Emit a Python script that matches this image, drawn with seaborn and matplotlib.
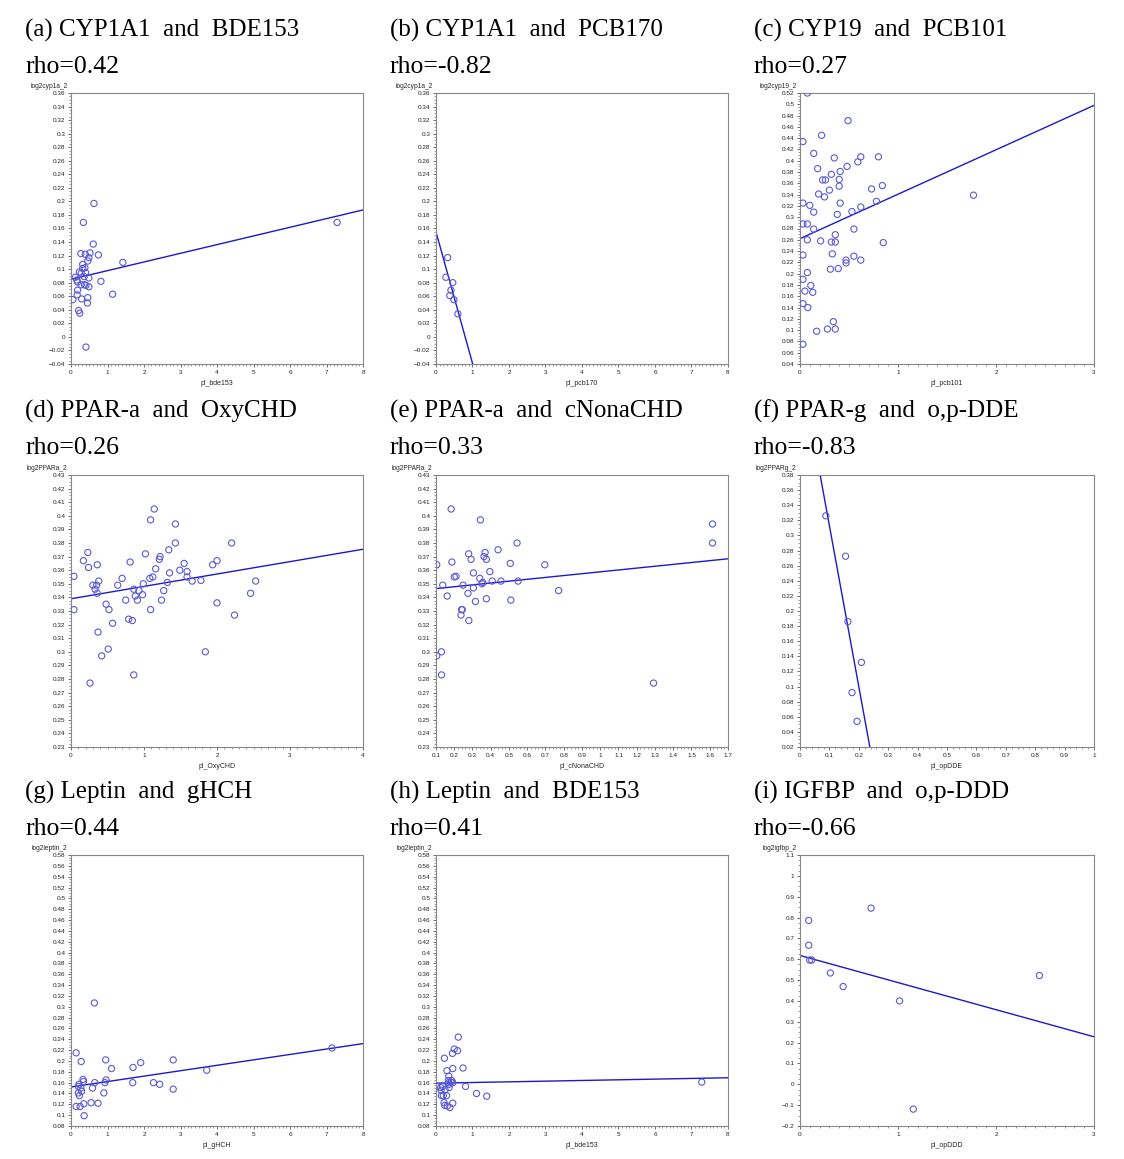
import numpy as np
import pandas as pd
import matplotlib
matplotlib.use("Agg")
import matplotlib.pyplot as plt
from matplotlib.ticker import AutoMinorLocator, FixedLocator, FuncFormatter
import seaborn as sns

# ---------------- data ----------------
titles = ["(a) CYP1A1  and  BDE153", "(b) CYP1A1  and  PCB170", "(c) CYP19  and  PCB101",
          "(d) PPAR-a  and  OxyCHD", "(e) PPAR-a  and  cNonaCHD", "(f) PPAR-g  and  o,p-DDE",
          "(g) Leptin  and  gHCH", "(h) Leptin  and  BDE153", "(i) IGFBP  and  o,p-DDD"]
rhos = ["rho=0.42", "rho=-0.82", "rho=0.27", "rho=0.26", "rho=0.33", "rho=-0.83",
        "rho=0.44", "rho=0.41", "rho=-0.66"]
xlabels = ["pl_bde153", "pl_pcb170", "pl_pcb101", "pl_OxyCHD", "pl_cNonaCHD", "pl_opDDE",
           "pl_gHCH", "pl_bde153", "pl_opDDD"]
ylabels = ["log2cyp1a_2", "log2cyp1a_2", "log2cyp19_2", "log2PPARa_2", "log2PPARa_2",
           "log2PPARg_2", "log2leptin_2", "log2leptin_2", "log2igfbp_2"]

# axis tick ranges (start, stop, step)
x_ticks = [(0, 8, 1), (0, 8, 1), (0, 3, 1), (0, 4, 1), (0.1, 1.7, 0.1), (0, 1, 0.1),
           (0, 8, 1), (0, 8, 1), (0, 3, 1)]
y_ticks = [(-0.04, 0.36, 0.02), (-0.04, 0.36, 0.02), (0.04, 0.52, 0.02), (0.23, 0.43, 0.01),
           (0.23, 0.43, 0.01), (0.02, 0.38, 0.02), (0.08, 0.58, 0.02), (0.08, 0.58, 0.02),
           (-0.2, 1.1, 0.1)]

# fitted regression lines: intercept, slope
fit_intercept = [0.085, 0.155, 0.262, 0.339, 0.3451, 0.526, 0.152, 0.159, 0.618]
fit_slope = [0.0128, -0.194, 0.0787, 0.0091, 0.0137, -2.13, 0.010, 0.00125, -0.130]

a_x = [0.05, 0.12, 0.16, 0.18, 0.18, 0.17, 0.23, 0.27, 0.28, 0.29, 0.21, 0.24, 0.32, 0.32, 0.34,
       0.37, 0.39, 0.38, 0.40, 0.41, 0.41, 0.46, 0.46, 0.45, 0.49, 0.49, 0.49, 0.52, 0.61, 0.63,
       0.75, 0.82, 1.14, 1.42, 7.29, 0.28, 0.36]
a_y = [0.055, 0.088, 0.084, 0.081, 0.069, 0.062, 0.096, 0.123, 0.077, 0.056, 0.039, 0.035, 0.107,
       0.101, 0.169, 0.077, 0.122, 0.102, 0.095, 0.076, -0.015, 0.112, 0.058, 0.050, 0.117, 0.087,
       0.074, 0.124, 0.137, 0.197, 0.121, 0.082, 0.063, 0.110, 0.169, 0.094, 0.089]

b_x = [0.32, 0.27, 0.46, 0.41, 0.38, 0.49, 0.60]
b_y = [0.117, 0.088, 0.080, 0.069, 0.061, 0.055, 0.034]

c_x = [0.075, 0.49, 0.03, 0.22, 0.14, 0.35, 0.62, 0.80, 0.59, 0.48, 0.18, 0.41, 0.32, 0.23, 0.26,
       0.40, 0.40, 0.30, 0.73, 0.84, 0.19, 0.25, 1.77, 0.03, 0.41, 0.78, 0.10, 0.62, 0.14, 0.53,
       0.38, 0.03, 0.075, 0.14, 0.55, 0.36, 0.075, 0.21, 0.32, 0.36, 0.85, 0.03, 0.33, 0.55, 0.47,
       0.62, 0.47, 0.31, 0.39, 0.075, 0.03, 0.11, 0.05, 0.13, 0.03, 0.08, 0.34, 0.28, 0.36, 0.17,
       0.03]
c_y = [0.520, 0.471, 0.434, 0.445, 0.413, 0.405, 0.407, 0.407, 0.398, 0.390, 0.386, 0.381, 0.376,
       0.366, 0.366, 0.367, 0.355, 0.348, 0.350, 0.356, 0.341, 0.336, 0.339, 0.325, 0.325, 0.328,
       0.321, 0.318, 0.309, 0.310, 0.305, 0.288, 0.288, 0.279, 0.279, 0.269, 0.260, 0.258, 0.256,
       0.256, 0.255, 0.233, 0.235, 0.231, 0.224, 0.224, 0.219, 0.208, 0.209, 0.202, 0.190, 0.179,
       0.169, 0.167, 0.147, 0.140, 0.115, 0.102, 0.102, 0.098, 0.075]

d_x = [0.04, 0.04, 0.17, 0.23, 0.24, 0.26, 0.30, 0.33, 0.35, 0.36, 0.38, 0.36, 0.37, 0.42, 0.48,
       0.52, 0.51, 0.57, 0.64, 0.70, 0.75, 0.81, 0.79, 0.84, 0.86, 0.86, 0.88, 0.91, 0.93, 0.98,
       0.99, 1.02, 1.08, 1.09, 1.09, 1.12, 1.14, 1.16, 1.21, 1.22, 1.24, 1.27, 1.32, 1.34, 1.35,
       1.43, 1.43, 1.49, 1.55, 1.59, 1.59, 1.66, 1.78, 1.84, 1.94, 2.00, 2.00, 2.20, 2.24, 2.46,
       2.53]
d_y = [0.3555, 0.331, 0.367, 0.373, 0.362, 0.277, 0.349, 0.346, 0.349, 0.364, 0.352, 0.343, 0.3145,
       0.297, 0.335, 0.331, 0.302, 0.321, 0.349, 0.354, 0.338, 0.366, 0.324, 0.323, 0.283, 0.346,
       0.341, 0.338, 0.345, 0.342, 0.350, 0.372, 0.354, 0.397, 0.331, 0.355, 0.405, 0.361, 0.368,
       0.370, 0.338, 0.345, 0.351, 0.375, 0.358, 0.394, 0.380, 0.360, 0.365, 0.359, 0.355, 0.352,
       0.3525, 0.300, 0.364, 0.367, 0.336, 0.380, 0.327, 0.343, 0.352]

e_x = [0.104, 0.104, 0.13, 0.13, 0.137, 0.161, 0.183, 0.187, 0.20, 0.21, 0.237, 0.24, 0.244,
       0.248, 0.275, 0.279, 0.28, 0.292, 0.305, 0.305, 0.316, 0.34, 0.343, 0.352, 0.356, 0.363,
       0.369, 0.376, 0.376, 0.395, 0.408, 0.44, 0.456, 0.507, 0.51, 0.544, 0.55, 0.696, 0.772,
       1.292, 1.615, 1.615]
e_y = [0.364, 0.297, 0.300, 0.283, 0.349, 0.341, 0.405, 0.366, 0.355, 0.3555, 0.327, 0.331, 0.331,
       0.349, 0.343, 0.372, 0.323, 0.368, 0.358, 0.347, 0.337, 0.354, 0.397, 0.350, 0.351, 0.370,
       0.373, 0.368, 0.339, 0.359, 0.352, 0.375, 0.352, 0.365, 0.338, 0.380, 0.352, 0.364, 0.345,
       0.277, 0.394, 0.380]

f_x = [0.088, 0.155, 0.163, 0.209, 0.177, 0.194]
f_y = [0.326, 0.2725, 0.186, 0.132, 0.092, 0.054]

g_x = [0.14, 0.14, 0.20, 0.22, 0.20, 0.23, 0.25, 0.28, 0.27, 0.29, 0.33, 0.34, 0.35, 0.36, 0.55,
       0.59, 0.64, 0.65, 0.74, 0.90, 0.95, 0.93, 0.96, 1.11, 1.70, 1.69, 1.91, 2.26, 2.43, 2.80,
       2.80, 3.72, 7.15]
g_y = [0.215, 0.116, 0.153, 0.157, 0.141, 0.136, 0.116, 0.199, 0.150, 0.144, 0.166, 0.162, 0.121,
       0.099, 0.123, 0.150, 0.307, 0.160, 0.122, 0.141, 0.202, 0.160, 0.165, 0.186, 0.188, 0.160,
       0.197, 0.160, 0.157, 0.202, 0.148, 0.183, 0.224]

h_x = [0.02, 0.13, 0.14, 0.15, 0.18, 0.20, 0.22, 0.23, 0.24, 0.25, 0.29, 0.30, 0.31, 0.34, 0.35,
       0.35, 0.36, 0.36, 0.38, 0.41, 0.43, 0.45, 0.46, 0.46, 0.46, 0.50, 0.59, 0.61, 0.74, 0.81,
       1.11, 1.39, 7.28]
h_y = [0.153, 0.151, 0.146, 0.136, 0.153, 0.136, 0.123, 0.205, 0.118, 0.147, 0.136, 0.182, 0.117,
       0.164, 0.172, 0.160, 0.151, 0.157, 0.114, 0.161, 0.164, 0.214, 0.186, 0.122, 0.160, 0.222,
       0.219, 0.244, 0.187, 0.153, 0.140, 0.135, 0.161]

i_x = [0.089, 0.089, 0.099, 0.12, 0.31, 0.44, 0.725, 1.016, 1.156, 2.443]
i_y = [0.786, 0.667, 0.596, 0.596, 0.534, 0.469, 0.845, 0.400, -0.119, 0.522]

xs = [a_x, b_x, c_x, d_x, e_x, f_x, g_x, h_x, i_x]
ys = [a_y, b_y, c_y, d_y, e_y, f_y, g_y, h_y, i_y]

# ---------------- figure ----------------
sns.set_style("white")
plt.rcParams['font.family'] = ['Liberation Sans', 'DejaVu Sans']

W, H = 1124, 1159
fig = plt.figure(figsize=(W / 100, H / 100), dpi=100)

col_lr = [(71, 363), (436, 728), (800, 1094)]
row_tb = [(93, 364), (475, 747), (855, 1126)]
title_y = [(30, 67), (411, 448), (792, 829)]

pt_color = "#5a5ad6"
line_color = "#1a1acc"


def fmt(v, pos=None):
    s = "%g" % round(v, 4)
    if s == "-0":
        s = "0"
    return s.replace("-", "\u2212")


for k in range(9):
    r, c = divmod(k, 3)
    l, rr = col_lr[c]
    t, b = row_tb[r]
    ax = fig.add_axes([l / W, 1 - b / H, (rr - l) / W, (b - t) / H])

    df = pd.DataFrame({"x": xs[k], "y": ys[k]})
    sns.scatterplot(data=df, x="x", y="y", ax=ax, marker="o", s=20,
                    facecolors="none", edgecolor=pt_color, linewidth=0.8, zorder=3)

    x0, x1, xst = x_ticks[k]
    y0, y1, yst = y_ticks[k]
    xl = np.array([x0, x1])
    line_df = pd.DataFrame({"x": xl, "y": fit_intercept[k] + fit_slope[k] * xl})
    sns.lineplot(data=line_df, x="x", y="y", ax=ax, color=line_color, linewidth=1.0, zorder=2)

    ax.set_xlim(x0, x1)
    ax.set_ylim(y0, y1)
    xt = np.round(np.arange(x0, x1 + xst / 2, xst), 4)
    yt = np.round(np.arange(y0, y1 + yst / 2, yst), 4)
    ax.xaxis.set_major_locator(FixedLocator(xt))
    ax.yaxis.set_major_locator(FixedLocator(yt))
    ax.xaxis.set_major_formatter(FuncFormatter(fmt))
    ax.yaxis.set_major_formatter(FuncFormatter(fmt))
    ax.xaxis.set_minor_locator(AutoMinorLocator(10 if xst == 1 else 5))
    ax.yaxis.set_minor_locator(AutoMinorLocator(4))
    ax.tick_params(axis="both", which="major", direction="out", length=2.5, width=0.5,
                   labelsize=4.6, pad=1.5, colors="#333333", labelcolor="#222222",
                   bottom=True, left=True)
    ax.tick_params(axis="both", which="minor", direction="out", length=1.3, width=0.4,
                   colors="#555555", bottom=True, left=True)
    for sp in ax.spines.values():
        sp.set_color("#888888")
        sp.set_linewidth(0.8)

    ax.set_xlabel(xlabels[k], fontsize=5, labelpad=4)
    ax.set_ylabel("")
    ax.text(-0.012, 1.012, ylabels[k], transform=ax.transAxes, ha="right", va="bottom",
            fontsize=4.8)

    ty1, ty2 = title_y[r]
    fig.text((l - 46) / W, 1 - ty1 / H, titles[k], ha="left", va="center",
             fontsize=18, color="black", family=["Liberation Serif", "DejaVu Serif"])
    fig.text((l - 46) / W, 1 - ty2 / H, rhos[k], ha="left", va="center",
             fontsize=18.5, color="black", family=["Liberation Serif", "DejaVu Serif"])

fig.savefig("out.png", dpi=100)
